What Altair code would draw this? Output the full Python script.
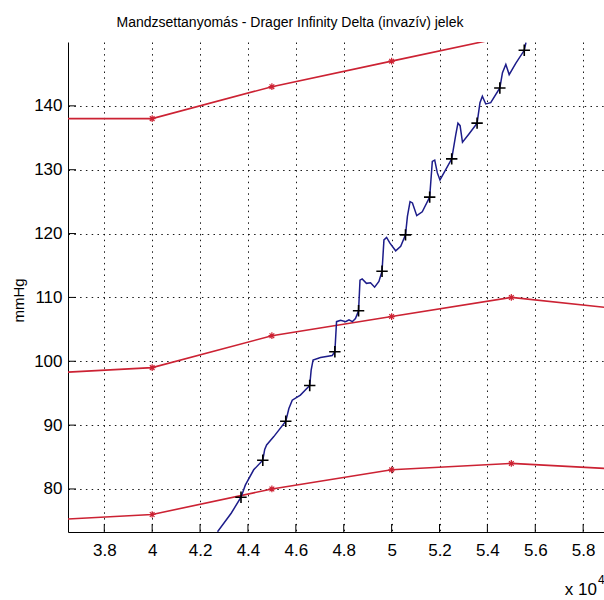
import altair as alt
import pandas as pd

# Cuff (non-invasive) readings: sample index and systolic / mean / diastolic values
cuff_x = [35000, 40000, 45000, 50000, 55000, 60000]
cuff_sys = [138, 138, 143, 147, 151, None]
cuff_mean = [98, 99, 104, 107, 110, 108]
cuff_dia = [75, 76, 80, 83, 84, 83]

# Invasive arterial pressure trace (Drager Infinity Delta)
inv_x = [42730, 43300, 43710, 43890, 44240, 44620, 44700, 44780, 45080, 45580,
         45710, 45850, 46190, 46580, 46640, 46720, 47030, 47520, 47630, 47700,
         47870, 48080, 48220, 48360, 48490, 48620, 48680, 48770, 48950, 49120,
         49290, 49470, 49600, 49680, 49790, 49930, 50170, 50380, 50580, 50660,
         50770, 50870, 51050, 51280, 51590, 51700, 51800, 51910, 52020, 52260,
         52510, 52680, 52770, 52860, 52960, 53230, 53570, 53690, 53790, 53930,
         54140, 54520, 54630, 54770, 54910, 55190, 55540, 55610]
inv_y = [73.3, 76.2, 78.7, 80.6, 83.0, 84.5, 86.2, 86.9, 88.2, 90.6,
         92.6, 93.9, 94.7, 96.2, 98.6, 100.2, 100.6, 100.9, 101.5, 106.2,
         106.4, 106.2, 106.5, 106.2, 106.7, 107.9, 112.7, 112.9, 112.2, 112.3,
         111.6, 112.5, 114.1, 119.0, 119.4, 118.5, 117.3, 118.0, 119.8, 122.7,
         125.0, 124.8, 122.8, 123.4, 125.7, 131.3, 131.5, 129.5, 128.4, 130.0,
         131.7, 135.5, 137.3, 136.9, 134.3, 135.6, 137.3, 140.5, 141.5, 140.3,
         140.5, 142.8, 145.2, 146.5, 144.9, 146.7, 148.7, 149.9]

# Beat markers on the invasive trace
beat_x = [43710, 44620, 45580, 46580, 47630, 48620, 49600, 50580, 51590, 52510,
          53570, 54520, 55540]
beat_y = [78.7, 84.5, 90.6, 96.2, 101.5, 107.9, 114.1, 119.8, 125.7, 131.7,
          137.3, 142.8, 148.7]

x_ticks = [38000, 40000, 42000, 44000, 46000, 48000, 50000, 52000, 54000, 56000, 58000]
y_ticks = [80, 90, 100, 110, 120, 130, 140]

TITLE = "Mandzsettanyomás - Drager Infinity Delta (invazív) jelek"
FONT = "Liberation Sans, Arial, sans-serif"
RED = "#cc2233"
BLUE = "#1c1c8a"
W, H = 536, 490

rows = []
for name, vals in [("sys", cuff_sys), ("mean", cuff_mean), ("dia", cuff_dia)]:
    for xv, yv in zip(cuff_x, vals):
        if yv is not None:
            rows.append({"x": xv, "y": yv, "series": name})
cuff = pd.DataFrame(rows)
inv = pd.DataFrame({"x": inv_x, "y": inv_y})
beats = pd.DataFrame({"x": beat_x, "y": beat_y})
xt = pd.DataFrame({"x": x_ticks})
yt = pd.DataFrame({"y": y_ticks})

xs = alt.Scale(domain=[36485, 58870], nice=False, zero=False)
ys = alt.Scale(domain=[73.26, 150], nice=False, zero=False)

x_axis = alt.Axis(values=x_ticks, labelExpr="format(datum.value / 10000, '.1~f')",
                  title=None, grid=True, tickSize=0, labelPadding=10,
                  labelFontSize=17)
y_axis = alt.Axis(values=y_ticks, title="mmHg", grid=True, tickSize=0,
                  labelPadding=6, labelFontSize=17, titleFontSize=15,
                  titleFontWeight="normal", titleX=-50, titleY=258,
                  titleAngle=270, titleAlign="center", titleBaseline="middle")

X = alt.X("x:Q", scale=xs, axis=x_axis)
Y = alt.Y("y:Q", scale=ys, axis=y_axis)

asterisk = "M-1,0L1,0M0,-1L0,1M-0.7,-0.7L0.7,0.7M-0.7,0.7L0.7,-0.7"
plus = "M-1,0L1,0M0,-1L0,1"

cuff_lines = alt.Chart(cuff).mark_line(color=RED, strokeWidth=1.6, clip=True).encode(
    x=X, y=Y, detail="series:N")
cuff_marks = alt.Chart(cuff).mark_point(shape=asterisk, color=RED, filled=False,
                                        size=45, strokeWidth=1.2, opacity=1,
                                        clip=True).encode(x="x:Q", y="y:Q")
inv_line = alt.Chart(inv).mark_line(color=BLUE, strokeWidth=1.5, clip=True).encode(
    x="x:Q", y="y:Q")
beat_marks = alt.Chart(beats).mark_point(shape=plus, color="black", filled=False,
                                         size=130, strokeWidth=1.6, opacity=1,
                                         clip=True).encode(x="x:Q", y="y:Q")

x_tick_marks = alt.Chart(xt).mark_rule(color="black", strokeWidth=1).encode(
    x="x:Q", y=alt.value(H), y2=alt.value(H - 8))
y_tick_marks = alt.Chart(yt).mark_rule(color="black", strokeWidth=1).encode(
    y="y:Q", x=alt.value(0), x2=alt.value(8))

exp_df = pd.DataFrame({"t": ["x 10"]})
exp_base = alt.Chart(exp_df).mark_text(text="x 10", font=FONT, fontSize=17,
                                       align="right", baseline="alphabetic",
                                       color="black").encode(
    x=alt.value(529), y=alt.value(553))
exp_pow = alt.Chart(exp_df).mark_text(text="4", font=FONT, fontSize=12,
                                      align="left", baseline="alphabetic",
                                      color="black").encode(
    x=alt.value(530), y=alt.value(542))

chart = alt.layer(
    cuff_lines, cuff_marks, inv_line, beat_marks, x_tick_marks, y_tick_marks,
    exp_base, exp_pow
).properties(
    width=W, height=H,
    title=alt.TitleParams(TITLE, fontSize=14, fontWeight="normal", color="black",
                          font=FONT, anchor="middle", dx=-46, offset=12),
    autosize=alt.AutoSizeParams(type="none"),
    padding={"left": 68, "top": 42, "right": 0, "bottom": 68},
    background="white",
).configure(font=FONT).configure_view(stroke=None).configure_axis(
    domainColor="black", domainWidth=1, gridColor="black", gridDash=[1.5, 4.3],
    gridWidth=1, gridOpacity=0.9, labelColor="black", titleColor="black",
    labelFont=FONT, titleFont=FONT,
)

chart.save("out.html", embed_options={"renderer": "svg", "actions": False})
